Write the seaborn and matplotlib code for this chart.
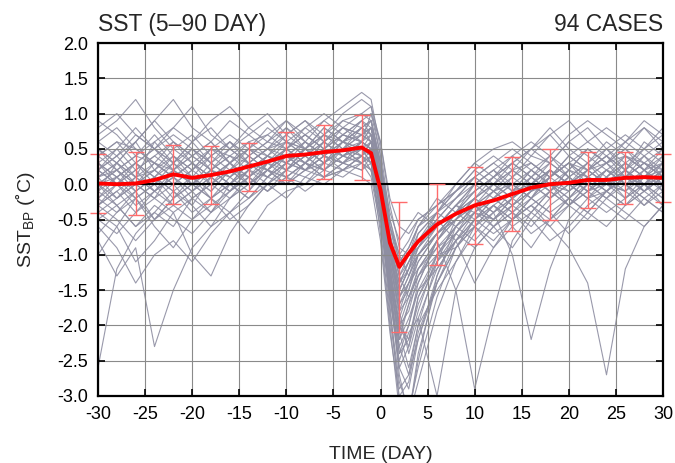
import numpy as np
import pandas as pd
import matplotlib
matplotlib.use("Agg")
import matplotlib.pyplot as plt
import seaborn as sns

# ---------------- data ----------------
days = [-30, -28, -26, -24, -22, -20, -18, -16, -14, -12, -10, -8, -6, -4, -2, -1,
        0, 1, 2, 3, 4, 6, 8, 10, 12, 14, 16, 18, 20, 22, 24, 26, 28, 30]

# representative individual cases (subset of the 94 shown)
case01 = [0.3,0.5,0.2,0.4,0.6,0.3,0.5,0.4,0.6,0.7,0.5,0.8,0.6,0.9,1.0,1.1,0.4,-0.8,-1.5,-1.2,-0.8,-0.5,-0.2,0.1,-0.1,0.2,0.3,0.1,0.4,0.2,0.3,0.5,0.2,0.4]
case02 = [-0.3,-0.1,-0.4,-0.2,0.0,-0.3,0.1,-0.1,0.2,0.1,0.3,0.2,0.4,0.3,0.5,0.4,-0.3,-1.2,-2.0,-1.8,-1.3,-0.9,-0.6,-0.4,-0.5,-0.2,0.0,-0.2,0.1,-0.1,0.0,0.2,-0.1,0.1]
case03 = [0.7,0.9,1.2,0.8,0.5,0.7,0.4,0.6,0.3,0.5,0.6,0.4,0.7,0.5,0.6,0.5,-0.1,-1.0,-1.6,-1.3,-1.0,-0.7,-0.4,-0.6,-0.3,-0.1,0.2,0.4,0.1,0.3,0.5,0.2,0.6,0.4]
case04 = [-0.8,-1.3,-0.9,-2.3,-1.5,-0.9,-0.6,-0.2,0.0,0.2,0.1,0.3,0.2,0.4,0.3,0.2,-0.5,-1.5,-2.4,-2.0,-1.5,-1.0,-0.7,-0.3,-0.6,-0.4,-0.1,0.0,-0.2,0.1,0.0,-0.1,0.2,0.0]
case05 = [0.2,0.0,0.3,0.1,0.4,0.2,0.0,0.3,0.5,0.3,0.6,0.5,0.8,0.6,0.7,0.9,0.2,-0.6,-1.0,-0.8,-0.5,-0.3,-0.1,0.2,0.0,0.3,0.5,0.3,0.6,0.4,0.2,0.4,0.3,0.5]
case06 = [-0.4,-0.6,-0.2,-0.5,-0.3,-0.1,-0.4,-0.2,0.0,0.2,0.0,0.3,0.1,0.2,0.4,0.3,-0.4,-1.8,-2.8,-3.2,-2.6,-1.6,-0.9,-0.5,-0.3,-0.5,-0.2,0.0,-0.3,-0.1,0.1,-0.2,0.0,-0.3]
case07 = [0.5,0.3,0.6,0.9,1.2,0.8,0.6,0.9,0.7,0.5,0.8,0.6,0.9,1.1,1.3,1.2,0.5,-0.5,-1.1,-0.9,-0.6,-0.3,0.0,0.3,0.5,0.6,0.4,0.7,0.9,0.6,0.8,0.6,0.9,0.7]
case08 = [0.0,0.2,-0.1,0.1,-0.2,0.0,0.2,0.1,-0.1,0.3,0.4,0.2,0.5,0.4,0.6,0.5,-0.2,-1.3,-2.2,-1.7,-1.2,-0.8,-1.5,-2.9,-1.8,-0.8,-0.4,-0.1,0.1,-0.1,0.2,0.0,0.1,0.3]
case09 = [-1.0,-0.6,-1.1,-0.8,-0.4,-1.0,-1.3,-0.7,-0.3,0.0,0.2,0.1,0.3,0.5,0.4,0.6,0.0,-0.9,-1.4,-1.1,-0.8,-0.6,-0.3,-0.4,-0.2,0.0,-0.2,0.1,0.3,0.0,0.2,0.1,0.3,0.2]
case10 = [0.4,0.6,0.5,0.3,0.2,0.5,0.3,0.1,0.4,0.6,0.5,0.7,0.5,0.8,0.7,0.6,0.0,-1.1,-1.9,-1.5,-1.1,-0.7,-0.5,-0.2,-0.4,-1.0,-2.2,-1.2,-0.5,-0.2,-0.1,0.1,0.0,0.2]
case11 = [0.1,-0.2,0.0,0.2,0.4,0.1,-0.1,0.2,0.0,0.3,0.2,0.5,0.3,0.5,0.8,0.9,0.3,-1.4,-2.6,-2.9,-2.2,-1.3,-0.7,-0.4,-0.1,0.0,-0.2,0.2,0.0,0.3,0.1,0.4,0.2,0.0]
case12 = [-0.2,0.1,0.3,0.0,-0.3,-0.1,0.2,0.4,0.3,0.1,0.4,0.6,0.4,0.3,0.5,0.3,-0.3,-0.8,-1.2,-1.0,-0.9,-0.6,-0.3,-0.5,-0.3,-0.5,-0.3,-0.6,-0.9,-1.4,-2.7,-1.2,-0.6,-0.3]
case13 = [-2.6,-1.2,-0.7,-0.4,-0.6,-0.2,-0.4,0.0,-0.2,0.1,0.3,0.2,0.4,0.3,0.6,0.5,-0.1,-1.0,-1.7,-1.4,-1.0,-0.7,-0.4,-0.1,0.1,-0.1,0.0,0.2,0.0,0.2,0.4,0.1,-0.1,0.1]
case14 = [0.6,0.4,0.7,0.5,0.3,0.6,0.9,1.1,0.8,0.6,0.9,0.7,0.5,0.7,0.9,0.8,0.1,-0.7,-1.3,-1.6,-1.2,-0.8,-0.5,-0.3,0.0,0.2,0.0,0.3,0.6,0.8,0.5,0.7,0.5,0.8]
case15 = [-0.5,-0.3,-0.6,-0.4,-0.1,-0.3,-0.6,-0.4,-0.7,-0.3,-0.1,0.0,0.2,0.1,0.3,0.2,-0.5,-1.6,-2.5,-2.1,-1.9,-3.0,-1.5,-0.9,-0.6,-0.4,-0.7,-0.5,-0.2,-0.4,-0.1,-0.3,0.0,-0.2]
case16 = [0.2,0.4,0.1,0.6,0.3,0.1,0.4,0.2,0.5,0.7,0.9,0.6,0.4,0.6,0.5,0.7,0.1,-0.9,-1.5,-1.2,-0.7,-0.4,-0.2,0.1,-0.1,-0.3,0.0,0.2,0.0,-0.2,0.1,0.3,0.5,0.3]
case17 = [-0.1,0.3,0.6,0.2,0.0,0.2,0.5,0.3,0.1,0.4,0.3,0.5,0.7,0.6,0.4,0.5,-0.2,-1.1,-1.8,-2.4,-1.9,-1.2,-0.8,-0.6,-0.8,-0.5,-0.3,-0.1,-0.3,0.0,-0.2,0.0,-0.3,-0.1]
case18 = [0.3,0.1,-0.2,0.0,0.3,0.5,0.2,0.0,0.3,0.2,0.5,0.3,0.6,0.8,0.7,0.8,0.3,-0.4,-0.8,-0.6,-0.4,-0.6,-0.3,0.0,0.2,0.4,0.2,0.0,0.2,0.5,0.3,0.1,0.4,0.6]
case19 = [-0.6,-0.9,-1.4,-1.0,-0.8,-1.1,-0.7,-0.4,-0.2,0.1,0.0,0.2,0.1,0.3,0.2,0.4,-0.4,-1.3,-2.0,-1.6,-1.3,-1.0,-0.9,-0.6,-0.9,-0.6,-0.4,-0.6,-0.3,-0.5,-0.2,-0.4,-0.6,-0.3]
case20 = [0.9,0.7,0.4,0.6,0.8,1.1,0.7,0.5,0.7,0.9,0.6,0.8,1.0,0.8,1.0,0.9,0.3,-0.6,-1.2,-1.0,-0.7,-0.4,-0.1,0.2,0.4,0.2,0.5,0.8,0.5,0.3,0.6,0.4,0.2,0.5]
case21 = [0.0,-0.3,-0.1,-0.5,-0.2,0.1,-0.1,0.2,0.1,-0.1,0.2,0.4,0.2,0.5,0.3,0.4,-0.2,-1.5,-2.7,-3.3,-2.4,-1.4,-0.8,-0.5,-0.2,-0.4,-0.6,-0.3,-0.1,0.1,-0.1,0.1,0.3,0.1]
case22 = [0.4,0.2,0.0,0.3,0.1,-0.1,0.1,0.3,0.5,0.4,0.2,0.4,0.6,0.4,0.6,0.7,0.0,-1.0,-1.5,-1.2,-0.9,-0.5,-0.8,-1.4,-0.9,-0.5,-0.2,-0.4,-0.7,-0.4,-0.1,0.1,-0.1,0.2]
case23 = [-0.3,0.0,0.2,-0.1,0.1,0.3,0.0,-0.2,0.1,0.3,0.5,0.3,0.2,0.4,0.5,0.3,-0.3,-1.2,-2.1,-1.7,-1.4,-0.8,-0.4,-0.1,0.1,0.3,0.1,-0.1,0.2,0.1,0.3,0.0,0.2,-0.1]
case24 = [0.1,0.3,0.0,0.2,0.5,0.3,0.1,-0.1,0.2,0.4,0.3,0.6,0.4,0.7,0.6,1.0,0.6,-0.2,-0.6,-0.7,-0.5,-0.3,-0.1,0.1,0.3,0.1,0.4,0.3,0.1,0.3,0.0,0.3,0.1,0.4]
case25 = [0.5,0.2,0.4,0.7,0.4,0.2,0.5,0.7,0.5,0.8,0.6,0.5,0.7,0.9,0.8,0.7,0.0,-1.3,-2.3,-2.0,-1.4,-0.8,-0.4,-0.2,0.1,0.3,0.1,0.4,0.2,0.5,0.3,0.6,0.4,0.2]
case26 = [-0.2,-0.4,-0.1,0.1,-0.1,-0.4,-0.2,0.0,0.2,0.0,0.3,0.5,0.3,0.6,0.8,0.6,-0.1,-1.7,-3.1,-3.3,-2.5,-1.3,-0.6,-0.3,-0.5,-0.2,0.1,-0.1,0.2,0.0,-0.2,0.1,0.0,0.2]
case27 = [0.8,1.0,0.7,0.5,0.8,0.6,0.3,0.5,0.8,1.0,0.7,0.9,0.7,1.0,1.2,1.1,0.6,-0.3,-0.9,-1.0,-0.8,-0.4,0.0,0.3,0.1,0.4,0.6,0.4,0.7,0.9,0.7,0.5,0.8,0.6]
case28 = [0.0,0.1,0.3,0.5,0.2,0.0,-0.2,0.1,0.3,0.5,0.4,0.2,0.4,0.6,0.5,0.4,-0.4,-1.4,-2.1,-2.6,-2.0,-1.1,-0.5,-0.2,0.0,-0.2,0.1,-0.1,-0.3,0.0,0.2,0.0,-0.2,0.0]
case29 = [-0.7,-0.4,-0.2,-0.6,-0.9,-0.5,-0.2,-0.5,-0.3,0.0,-0.2,0.1,0.0,0.2,0.3,0.1,-0.6,-1.9,-2.9,-2.7,-2.0,-1.5,-1.1,-0.6,-0.3,-0.6,-0.9,-0.5,-0.2,-0.4,-0.6,-0.3,-0.1,-0.3]
case30 = [0.2,0.5,0.8,0.5,0.3,0.6,0.8,0.5,0.3,0.5,0.7,0.9,0.6,0.8,0.6,0.8,0.2,-0.8,-1.4,-1.1,-0.9,-0.4,-0.1,0.1,0.3,0.5,0.3,0.1,0.3,0.2,0.4,0.2,0.5,0.7]
case31 = [-0.1,-0.3,-0.6,-0.3,-0.5,-0.7,-0.4,-0.1,0.1,-0.1,0.1,0.3,0.5,0.3,0.4,0.6,-0.1,-1.2,-2.0,-2.2,-1.6,-1.0,-0.6,-0.3,-0.1,0.1,-0.1,0.2,0.0,-0.2,-0.4,-0.2,0.0,0.1]
case32 = [0.3,0.0,0.2,0.4,0.2,0.4,0.2,0.5,0.3,0.2,0.4,0.3,0.5,0.7,0.6,0.5,-0.2,-1.0,-1.6,-1.4,-1.2,-0.9,-0.7,-0.9,-0.6,-0.3,-0.1,0.1,0.3,0.1,0.0,0.2,0.4,0.1]
case33 = [0.1,0.2,0.4,0.3,0.6,0.4,0.6,0.3,0.0,0.2,0.5,0.7,0.9,0.7,0.9,1.0,0.4,-0.7,-1.3,-1.0,-0.6,-0.2,-0.4,0.0,0.2,0.0,-0.2,0.1,0.3,0.5,0.3,0.4,0.2,0.3]
case34 = [-0.4,-0.2,0.0,-0.2,0.2,0.0,-0.2,-0.4,-0.1,0.2,0.1,0.0,0.3,0.2,0.4,0.2,-0.5,-1.6,-2.6,-2.3,-1.6,-1.1,-0.8,-0.4,-0.6,-0.9,-0.5,-0.2,0.0,-0.2,0.0,-0.2,0.1,-0.1]
case35 = [0.6,0.8,0.5,0.3,0.1,0.3,0.1,0.3,0.6,0.4,0.7,0.5,0.3,0.5,0.7,0.6,0.0,-0.9,-1.7,-1.5,-1.0,-0.6,-0.3,0.0,0.2,-0.1,0.2,0.0,-0.2,0.1,-0.1,0.2,0.0,0.3]
case36 = [-0.2,0.0,-0.3,-0.1,0.1,-0.2,0.0,0.2,0.4,0.2,0.0,0.2,0.3,0.5,0.3,0.5,-0.2,-1.3,-2.2,-1.9,-1.5,-1.2,-0.8,-0.5,-0.2,0.0,0.2,0.0,-0.1,0.2,0.4,0.2,0.0,-0.2]
case37 = [0.4,0.6,0.3,0.1,0.3,0.0,0.3,0.6,0.4,0.6,0.8,0.5,0.8,0.6,0.8,0.9,0.3,-0.5,-1.0,-1.3,-1.0,-0.7,-0.5,-0.2,-0.4,-0.1,0.1,0.3,0.1,-0.1,0.1,0.3,0.1,0.0]
case38 = [0.0,-0.2,0.1,-0.1,0.2,0.4,0.6,0.3,0.1,0.3,0.1,0.3,0.1,0.3,0.2,0.3,-0.7,-2.0,-3.2,-3.3,-2.8,-1.8,-1.1,-0.7,-0.4,-0.2,-0.4,-0.1,0.1,-0.1,0.1,-0.1,-0.3,0.0]
case39 = [-0.3,-0.5,-0.8,-0.5,-0.2,0.0,0.2,0.0,-0.2,0.0,0.2,0.4,0.2,0.4,0.6,0.5,-0.1,-1.1,-1.8,-1.6,-1.3,-0.8,-0.5,-0.3,-0.5,-0.3,-0.5,-0.8,-0.6,-0.3,-0.1,-0.3,-0.1,0.1]
case40 = [0.2,0.4,0.6,0.9,0.6,0.4,0.2,0.4,0.2,0.4,0.2,0.5,0.7,0.5,0.7,0.8,0.2,-0.9,-1.6,-1.3,-0.9,-0.6,-0.3,-0.1,0.1,0.3,0.5,0.7,0.4,0.6,0.4,0.6,0.8,0.5]
case41 = [-0.1,0.1,-0.1,0.1,-0.1,0.1,-0.2,0.0,0.2,0.4,0.6,0.4,0.6,0.4,0.3,0.4,-0.3,-1.4,-2.3,-2.7,-2.2,-1.4,-0.9,-0.6,-0.4,-0.2,0.0,-0.2,0.0,0.2,0.0,-0.1,0.1,0.3]
case42 = [0.5,0.3,0.1,0.2,0.0,0.2,0.4,0.6,0.4,0.2,0.4,0.6,0.4,0.6,0.9,0.7,0.1,-0.8,-1.3,-1.1,-0.8,-0.5,-0.2,0.0,-0.2,0.1,0.3,0.1,0.4,0.2,0.5,0.3,0.1,0.2]
case43 = [-0.5,-0.7,-0.4,-0.1,-0.3,-0.5,-0.3,-0.1,0.1,-0.1,0.1,-0.1,0.1,0.2,0.1,0.0,-0.8,-2.1,-3.0,-2.8,-2.1,-1.4,-0.9,-0.5,-0.7,-0.5,-0.3,-0.5,-0.3,-0.1,-0.3,-0.5,-0.2,-0.4]
case44 = [0.1,0.3,0.1,-0.1,0.1,0.3,0.1,0.3,0.5,0.3,0.5,0.3,0.6,0.4,0.5,0.6,0.0,-1.0,-1.8,-1.4,-1.1,-0.7,-0.4,-0.2,0.0,0.2,0.0,0.2,0.0,0.2,0.0,0.2,0.0,0.2]
case45 = [0.3,0.1,0.3,0.5,0.7,0.5,0.3,0.1,0.3,0.1,0.3,0.5,0.3,0.5,0.4,0.6,0.0,-1.2,-2.0,-2.3,-1.8,-1.0,-0.6,-0.8,-0.5,-0.3,-0.1,0.1,-0.1,0.1,0.3,0.5,0.3,0.1]
case46 = [-0.3,-0.1,0.1,0.3,0.1,-0.1,0.1,-0.1,0.1,0.3,0.5,0.7,0.5,0.7,0.6,0.8,0.2,-0.6,-1.1,-0.9,-0.6,-0.4,-0.6,-0.3,-0.1,-0.3,-0.1,0.1,0.3,0.1,-0.1,0.1,0.3,0.1]
case47 = [0.0,0.2,0.0,-0.2,-0.4,-0.2,0.0,0.2,0.0,0.2,0.4,0.2,0.4,0.2,0.4,0.3,-0.4,-1.5,-2.4,-2.2,-1.7,-1.1,-0.7,-0.4,-0.2,-0.4,-0.2,-0.4,-0.2,0.0,0.2,0.0,-0.2,-0.4]
case48 = [0.2,0.0,-0.2,0.0,0.2,0.0,0.2,0.0,0.3,0.5,0.3,0.5,0.3,0.6,0.8,0.7,0.1,-0.9,-1.4,-1.2,-1.0,-0.7,-0.4,-0.2,0.0,-0.2,0.0,0.2,0.0,0.2,0.0,0.1,-0.1,0.1]

cases = [case01, case02, case03, case04, case05, case06, case07, case08, case09, case10,
         case11, case12, case13, case14, case15, case16, case17, case18, case19, case20,
         case21, case22, case23, case24, case25, case26, case27, case28, case29, case30,
         case31, case32, case33, case34, case35, case36, case37, case38, case39, case40,
         case41, case42, case43, case44, case45, case46, case47, case48]

# composite mean (red line)
mean_sst = [0.01,0.0,0.01,0.06,0.14,0.09,0.13,0.18,0.25,0.32,0.40,0.42,0.455,0.48,0.52,0.44,
            -0.08,-0.83,-1.17,-0.98,-0.81,-0.57,-0.42,-0.30,-0.23,-0.14,-0.05,0.0,0.02,0.06,0.06,0.09,0.10,0.09]

# error bars (every 4 days): centre and one standard deviation
eb_days = [-30, -26, -22, -18, -14, -10, -6, -2, 2, 6, 10, 14, 18, 22, 26, 30]
eb_mean = [0.01, 0.01, 0.14, 0.13, 0.25, 0.40, 0.455, 0.52, -1.17, -0.57, -0.30, -0.14, 0.0, 0.06, 0.09, 0.09]
eb_std = [0.42, 0.44, 0.42, 0.41, 0.34, 0.34, 0.38, 0.46, 0.92, 0.57, 0.55, 0.52, 0.50, 0.40, 0.37, 0.34]

x_ticks = [-30, -25, -20, -15, -10, -5, 0, 5, 10, 15, 20, 25, 30]
y_ticks = [-3.0, -2.5, -2.0, -1.5, -1.0, -0.5, 0.0, 0.5, 1.0, 1.5, 2.0]

# ---------------- build tables ----------------
rows = []
for i, c in enumerate(cases):
    for d, v in zip(days, c):
        rows.append({"case": i, "day": d, "sst": v})
df_cases = pd.DataFrame(rows)
df_mean = pd.DataFrame({"day": days, "sst": mean_sst})

# ---------------- plot ----------------
sns.set_theme(style="white")
plt.rcParams['font.family'] = ['Liberation Sans', 'DejaVu Sans']
plt.rcParams['mathtext.fontset'] = 'custom'
plt.rcParams['mathtext.rm'] = 'Liberation Sans'

fig = plt.figure(figsize=(6.75, 4.63), dpi=100)
ax = fig.add_axes([98/675, 1-396/463, (663-98)/675, (396-43)/463])

sns.lineplot(data=df_cases, x="day", y="sst", units="case", estimator=None,
             color="#8e8ea2", linewidth=0.8, alpha=0.9, ax=ax, zorder=1, legend=False)

ax.axhline(0, color="black", linewidth=1.5, zorder=2)

ax.errorbar(eb_days, eb_mean, yerr=eb_std, fmt="none", ecolor="#ff6b6b",
            elinewidth=1.0, capsize=6, capthick=1.0, zorder=3, clip_on=False)

sns.lineplot(data=df_mean, x="day", y="sst", color="#ff0000", linewidth=2.8,
             ax=ax, zorder=4, legend=False)

ax.set_xlim(-30, 30)
ax.set_ylim(-3.0, 2.0)
ax.set_xticks(x_ticks)
ax.set_yticks(y_ticks)
ax.set_xticklabels([str(t) for t in x_ticks])
ax.set_yticklabels([f"{t:.1f}" for t in y_ticks])
ax.grid(True, color="#8a8a8a", linewidth=0.8)
ax.set_axisbelow('line')
ax.tick_params(direction="in", length=5, width=1.2, top=True, right=True,
               bottom=True, left=True, labelsize=13, pad=7, colors="black")
for s in ax.spines.values():
    s.set_color("black")
    s.set_linewidth(1.6)
    s.set_zorder(5)

ax.set_xlabel("TIME (DAY)", fontsize=14, labelpad=17)
ax.set_ylabel(r"SST$_{\mathrm{BP}}$ (˚C)", fontsize=14, labelpad=15)
ax.text(0.0, 1.02, "SST (5–90 DAY)", transform=ax.transAxes, fontsize=16.5,
        ha="left", va="bottom")
ax.text(1.0, 1.02, "94 CASES", transform=ax.transAxes, fontsize=16.5,
        ha="right", va="bottom")

fig.savefig("out.png", dpi=100)
